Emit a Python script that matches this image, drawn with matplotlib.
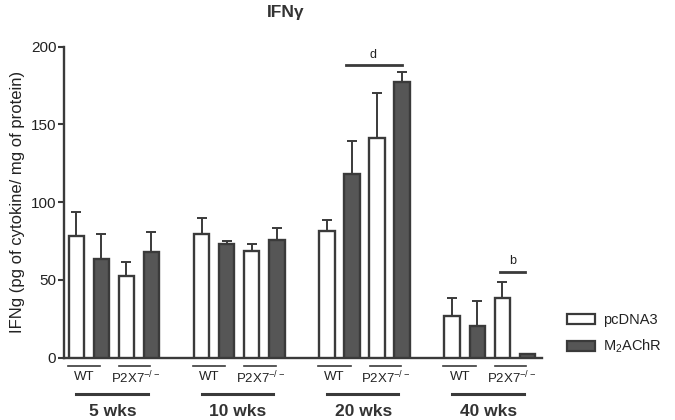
import matplotlib
matplotlib.use("Agg")
import matplotlib.pyplot as plt
from matplotlib.patches import Patch

plt.rcParams['font.family'] = ['Liberation Sans', 'DejaVu Sans']
plt.rcParams['mathtext.fontset'] = 'custom'
plt.rcParams['mathtext.rm'] = 'Liberation Sans'
plt.rcParams['mathtext.it'] = 'Liberation Sans:italic'

groups = ["5 wks", "10 wks", "20 wks", "40 wks"]
subgroups = ["WT", "P2X7$^{-/-}$"]
series = ["pcDNA3", "M$_2$AChR"]
# order per group: WT-pcDNA3, WT-M2AChR, P2X7-pcDNA3, P2X7-M2AChR
means = [
    [78.4, 63.4, 52.7, 67.7],
    [79.3, 72.9, 68.8, 75.6],
    [81.4, 118.0, 141.4, 177.0],
    [26.8, 20.4, 38.6, 2.5],
]
errs = [
    [15.4, 15.9, 8.6, 13.3],
    [10.3, 2.3, 4.5, 7.9],
    [7.1, 21.3, 28.9, 6.4],
    [11.4, 16.2, 10.2, 0.0],
]

edge = "#3a3a3a"
dark = "#565656"

fig = plt.figure(figsize=(6.75, 4.2), dpi=100)
ax = fig.add_axes([64/675, 1-357.7/420, (541.7-64)/675, (357.7-46.5)/420])

bw = 0.62
for g in range(len(groups)):
    for i in range(4):
        x = 5*g + i
        fc = "white" if i % 2 == 0 else dark
        ax.bar(x, means[g][i], width=bw, color=fc, edgecolor=edge, linewidth=1.7, zorder=3)
        if errs[g][i] > 0:
            ax.errorbar(x, means[g][i], yerr=[[0], [errs[g][i]]], fmt='none',
                        ecolor=edge, elinewidth=1.4, capsize=3.3, capthick=1.4, zorder=2)

ax.set_xlim(-0.49, 18.57)
ax.set_ylim(0, 200)
ax.set_yticks([0, 50, 100, 150, 200])
ax.set_xticks([])
for s in ["top", "right"]:
    ax.spines[s].set_visible(False)
for s in ["left", "bottom"]:
    ax.spines[s].set_color(edge)
    ax.spines[s].set_linewidth(1.7)
ax.tick_params(axis='y', direction='out', length=4.5, width=1.5, color=edge,
               labelsize=11, labelcolor="#222222", pad=1)
ax.set_ylabel("IFNg (pg of cytokine/ mg of protein)", fontsize=12, color="#222222", labelpad=4)

tr = ax.get_xaxis_transform()
ah = 357.7 - 46.5
def yf(py):
    return -(py - 357.7) / ah

for g in range(len(groups)):
    b = 5*g
    ax.plot([b-0.35, b+0.95], [yf(366)]*2, transform=tr, clip_on=False, color=edge, lw=1.2)
    ax.text(b+0.3, yf(377.5), subgroups[0], transform=tr, ha='center', va='center', fontsize=9.5, color="#222222")
    ax.plot([b+1.7, b+2.95], [yf(366)]*2, transform=tr, clip_on=False, color=edge, lw=1.2)
    ax.text(b+2.35, yf(377.5), subgroups[1], transform=tr, ha='center', va='center', fontsize=9.5, color="#222222")
    ax.plot([b+0.0, b+2.85], [yf(394)]*2, transform=tr, clip_on=False, color=edge, lw=2.2)
    ax.text(b+1.45, yf(411), groups[g], transform=tr, ha='center', va='center', fontsize=12.5,
            fontweight='bold', color="#333333")

# significance
ax.plot([10.78, 13.0], [188, 188], color=edge, lw=2.0, clip_on=False)
ax.text(11.85, 190.5, "d", ha='center', va='bottom', fontsize=9, color="#222222")
ax.plot([16.91, 17.9], [55.3, 55.3], color=edge, lw=2.0)
ax.text(17.4, 58, "b", ha='center', va='bottom', fontsize=9, color="#222222")

fig.text(286/675, 1-13/420, "IFN\u03b3", ha='center', va='center', fontsize=12.5, fontweight='bold',
         color="#333333")

handles = [Patch(facecolor="white", edgecolor=edge, linewidth=1.6),
           Patch(facecolor=dark, edgecolor=edge, linewidth=1.6)]
fig.legend(handles, series, loc='upper left', bbox_to_anchor=(567/675, 1-313/420),
           frameon=False, fontsize=10.5, handlelength=1.9, handleheight=0.75,
           handletextpad=0.6, labelspacing=0.75, borderpad=0, borderaxespad=0,
           labelcolor="#222222")

fig.savefig("out.png", dpi=100)
